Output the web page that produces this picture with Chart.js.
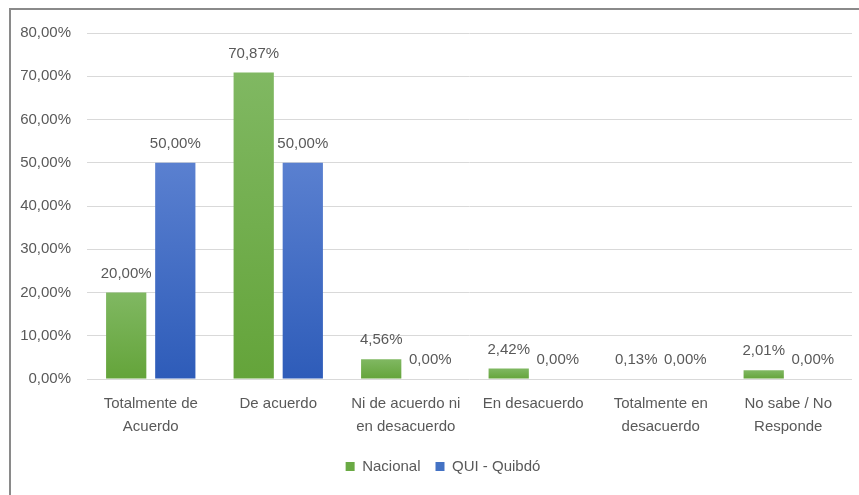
<!DOCTYPE html>
<html>
<head>
<meta charset="utf-8">
<script src="https://cdn.jsdelivr.net/npm/chart.js@4"></script>
<style>
  body { margin: 0; background: #fff; overflow: hidden; }
  #frame { position: absolute; left: 9px; top: 8px; width: 900px; height: 600px; border: 2px solid #8a8a8a; box-sizing: border-box; }
  #wrap { position: absolute; left: 0; top: 0; width: 859px; height: 495px; }
</style>
</head>
<body>
<div id="frame"></div>
<div id="wrap"><canvas id="chart"></canvas></div>
<script>
const categories = [
    ['Totalmente de', 'Acuerdo'],
    'De acuerdo',
    ['Ni de acuerdo ni', 'en desacuerdo'],
    'En desacuerdo',
    ['Totalmente en', 'desacuerdo'],
    ['No sabe / No', 'Responde']
];
const nacional = [20.00, 70.87, 4.56, 2.42, 0.13, 2.01];
const quibdo = [50.00, 50.00, 0.00, 0.00, 0.00, 0.00];
const yTicks = [0, 10, 20, 30, 40, 50, 60, 70, 80];

const textColor = '#595959';
const fontFamily = '"Liberation Sans", Arial, sans-serif';

function pct(v) {
    return v.toFixed(2).replace('.', ',') + '%';
}

// per-bar vertical gradient, lighter on top
function barGradient(top, bottom) {
    return function (context) {
        const chart = context.chart;
        if (!chart.chartArea || context.raw === undefined) return bottom;
        const y = chart.scales.y;
        const y0 = y.getPixelForValue(context.raw);
        const y1 = y.getPixelForValue(0);
        if (y1 - y0 < 1) return bottom;
        const g = chart.ctx.createLinearGradient(0, y0, 0, y1);
        g.addColorStop(0, top);
        g.addColorStop(1, bottom);
        return g;
    };
}

const valueLabels = {
    id: 'valueLabels',
    afterDatasetsDraw(chart) {
        const ctx = chart.ctx;
        ctx.save();
        ctx.font = '15px ' + fontFamily;
        ctx.fillStyle = textColor;
        ctx.textAlign = 'center';
        ctx.textBaseline = 'middle';
        chart.data.datasets.forEach((ds, i) => {
            chart.getDatasetMeta(i).data.forEach((bar, j) => {
                ctx.fillText(pct(ds.data[j]), bar.x, bar.y - 19);
            });
        });
        ctx.restore();
    }
};

// legend sits a bit right of the canvas centre, like the original
const legendShift = {
    id: 'legendShift',
    afterLayout(chart) {
        chart.legend.left += 12;
        chart.legend.right += 12;
    }
};

new Chart(document.getElementById('chart'), {
    type: 'bar',
    data: {
        labels: categories,
        datasets: [
            {
                label: 'Nacional',
                data: nacional,
                backgroundColor: barGradient('#80b862', '#64a43a'),
                categoryPercentage: 0.77,
                barPercentage: 0.82
            },
            {
                label: 'QUI - Quibdó',
                data: quibdo,
                backgroundColor: barGradient('#5a80d0', '#2e5cb9'),
                categoryPercentage: 0.77,
                barPercentage: 0.82
            }
        ]
    },
    options: {
        responsive: true,
        maintainAspectRatio: false,
        animation: false,
        layout: { padding: { left: 10, right: 7, top: 33, bottom: 11 } },
        plugins: {
            legend: {
                position: 'bottom',
                labels: {
                    color: textColor,
                    font: { family: fontFamily, size: 15 },
                    boxWidth: 9,
                    boxHeight: 9,
                    padding: 15,
                    generateLabels(chart) {
                        const fills = ['#6aaa44', '#4472c4'];
                        return chart.data.datasets.map((ds, i) => ({
                            text: ds.label,
                            fillStyle: fills[i],
                            strokeStyle: fills[i],
                            lineWidth: 0,
                            fontColor: textColor,
                            datasetIndex: i
                        }));
                    }
                }
            },
            tooltip: { enabled: false }
        },
        scales: {
            x: {
                grid: { display: false },
                border: { display: false },
                ticks: {
                    color: textColor,
                    font: { family: fontFamily, size: 15, lineHeight: 1.5 },
                    padding: 6,
                    maxRotation: 0
                }
            },
            y: {
                min: 0,
                max: 80,
                afterBuildTicks(scale) {
                    scale.ticks = yTicks.map(v => ({ value: v }));
                },
                afterFit(scale) {
                    scale.width = 77;
                },
                grid: { color: '#d9d9d9', drawTicks: false },
                border: { display: false },
                ticks: {
                    color: textColor,
                    font: { family: fontFamily, size: 15 },
                    padding: 16,
                    callback: v => pct(v)
                }
            }
        }
    },
    plugins: [valueLabels, legendShift]
});
</script>
</body>
</html>
